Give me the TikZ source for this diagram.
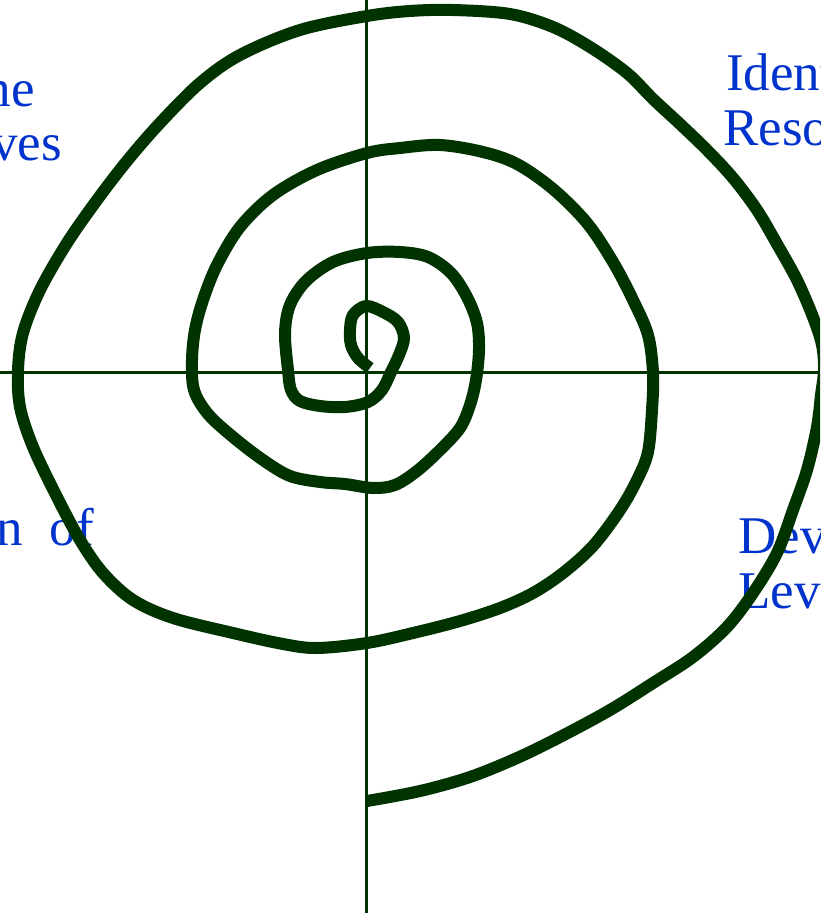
\documentclass[tikz,border=0pt]{standalone}
\usepackage{fontspec}
\setmainfont{Liberation Serif}[WordSpace=2]
\definecolor{dkgreen}{RGB}{0,51,0}
\definecolor{lblblue}{RGB}{0,51,204}
\tikzset{
  axisline/.style={draw=dkgreen, line width=3pt},
  spiralline/.style={draw=dkgreen, line width=12pt, line join=round, line cap=butt},
  lbl/.style={text=lblblue, font=\fontsize{53}{55}\selectfont, inner sep=0pt}
}
\begin{document}
\begin{tikzpicture}[x=1pt,y=-1pt]
\useasboundingbox (0,0) rectangle (820,913);
\clip (0,0) rectangle (820,913);
% axes
\coordinate (vtop) at (366.5,0);
\coordinate (vbot) at (366.5,913);
\coordinate (hleft) at (0,372);
\coordinate (hright) at (820,372);
\draw[axisline] (vtop) -- (vbot);
\draw[axisline] (hleft) -- (hright);
% labels
\node[lbl, anchor=base east] (tl1) at (35,106) {Determine the};
\node[lbl, anchor=base east] (tl2) at (62,160) {Objectives};
\node[lbl, anchor=base west] (tr1) at (726,90) {Identify and};
\node[lbl, anchor=base west] (tr2) at (723,145) {Resolve Risks};
\node[lbl, anchor=base east] (bl1) at (94,545) {Evaluation of};
\node[lbl, anchor=base west] (br1) at (738,553) {Develop Next-};
\node[lbl, anchor=base west] (br2) at (738,608) {Level Product};
% spiral
\draw[spiralline] plot[smooth, tension=0.55] coordinates {
(370,368) (358,358) (351,345) (350,330) (353,315) (366,306) (383,312) (398,322)
(404,338) (399,355) (391,372) (382,390) (368,402) (345,407) (320,406) (300,401)
(291,390) (288,370) (285,333) (290,305) (306,281) (333,262) (367,253) (400,252)
(428,257) (451,273) (467,297) (477,323) (479,350) (476,380) (470,405) (460,428)
(440,450) (417,471) (395,485) (373,488) (345,484) (320,482) (290,476) (263,460)
(233,437) (208,414) (194,390) (192,360) (195,330) (203,300) (217,265) (240,227)
(273,195) (317,170) (367,153) (400,148) (440,145) (483,152) (517,164) (553,189)
(587,223) (613,262) (633,300) (648,335) (653,373) (652,410) (648,452) (637,480)
(620,510) (593,546) (563,573) (533,593) (500,608) (460,621) (413,633) (367,643)
(317,648) (283,644) (233,633) (173,618) (133,600) (103,573) (80,540) (57,497)
(33,447) (20,407) (18,370) (23,333) (40,290) (67,243) (97,200) (127,161)
(160,123) (200,83) (240,55) (300,30) (367,16) (410,11) (453,10) (510,14)
(553,27) (590,47) (627,73) (653,99) (680,124) (707,150) (733,178) (757,210)
(777,244) (797,280) (813,317) (822,345) (824,370) (821,395) (817,427) (807,470)
(793,510) (777,553) (753,593) (727,627) (693,657) (653,683) (610,710) (560,737)
(517,758) (470,777) (420,791) (367,801)};
\end{tikzpicture}
\end{document}
